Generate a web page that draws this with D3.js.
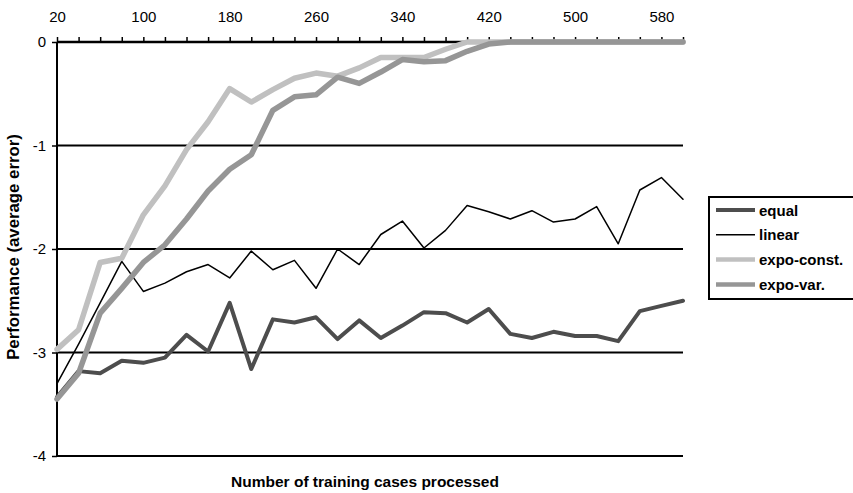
<!DOCTYPE html>
<html>
<head>
<meta charset="utf-8">
<script src="https://cdn.jsdelivr.net/npm/d3@7"></script>
<style>
  html, body { margin: 0; padding: 0; background: #fff; }
  svg { display: block; font-family: "Liberation Sans", Arial, sans-serif; }
</style>
</head>
<body>
<svg id="chart" width="853" height="493"></svg>
<script>
const categories = [20, 40, 60, 80, 100, 120, 140, 160, 180, 200, 220, 240, 260, 280, 300,
                    320, 340, 360, 380, 400, 420, 440, 460, 480, 500, 520, 540, 560, 580, 600];
const tickLabels = [20, 100, 180, 260, 340, 420, 500, 580];
const yTicks = [0, -1, -2, -3, -4];

const equal = [-3.43, -3.18, -3.20, -3.08, -3.10, -3.05, -2.83, -2.99, -2.52, -3.16,
               -2.68, -2.71, -2.66, -2.87, -2.69, -2.86, -2.74, -2.61, -2.62, -2.71,
               -2.58, -2.82, -2.86, -2.80, -2.84, -2.84, -2.89, -2.60, -2.55, -2.50];
const linear = [-3.30, -2.92, -2.52, -2.12, -2.41, -2.33, -2.22, -2.15, -2.28, -2.02,
                -2.20, -2.11, -2.38, -2.00, -2.15, -1.86, -1.73, -1.99, -1.82, -1.58,
                -1.64, -1.71, -1.63, -1.74, -1.71, -1.59, -1.95, -1.43, -1.31, -1.52];
const expoConst = [-2.97, -2.78, -2.13, -2.09, -1.67, -1.39, -1.04, -0.77, -0.45, -0.58,
                   -0.46, -0.35, -0.30, -0.33, -0.25, -0.15, -0.15, -0.15, -0.07, 0,
                   0, 0, 0, 0, 0, 0, 0, 0, 0, 0];
const expoVar = [-3.45, -3.20, -2.62, -2.38, -2.13, -1.96, -1.71, -1.44, -1.23, -1.09,
                 -0.66, -0.53, -0.51, -0.34, -0.40, -0.29, -0.17, -0.19, -0.18, -0.09,
                 -0.02, 0, 0, 0, 0, 0, 0, 0, 0, 0];

const seriesNames = ["equal", "linear", "expo-const.", "expo-var."];
const seriesData = [equal, linear, expoConst, expoVar];
const seriesStyle = [
  { color: "#4d4d4d", width: 4 },
  { color: "#000000", width: 1.5 },
  { color: "#c0c0c0", width: 5.5 },
  { color: "#969696", width: 5.5 }
];

const svg = d3.select("#chart");
const pLeft = 57, pRight = 683, pTop = 42, pBottom = 456;

const x = d3.scaleLinear().domain([20, 600]).range([pLeft, pRight]);
const y = d3.scaleLinear().domain([-4, 0]).range([pBottom, pTop]);

// horizontal gridlines
svg.append("g").selectAll("line")
  .data(yTicks.filter(d => d !== 0))
  .join("line")
  .attr("x1", pLeft).attr("x2", pRight)
  .attr("y1", d => y(d)).attr("y2", d => y(d))
  .attr("stroke", "#000").attr("stroke-width", 2);

// left axis
const yAxis = svg.append("g")
  .attr("transform", `translate(${pLeft},0)`)
  .call(d3.axisLeft(y).tickValues(yTicks).tickFormat(d => String(d)).tickSize(5).tickPadding(6));
yAxis.select(".domain").attr("stroke-width", 2).attr("d", `M0,${pTop}V${pBottom}`);
yAxis.selectAll(".tick line").attr("stroke-width", 1.5);
yAxis.selectAll("text").attr("font-size", 15).attr("fill", "#000")
  .attr("font-family", "'Liberation Sans', Arial, sans-serif");

// top axis
const xAxis = svg.append("g")
  .attr("transform", `translate(0,${pTop})`)
  .call(d3.axisTop(x).tickValues(categories)
    .tickFormat(d => tickLabels.includes(d) ? String(d) : "")
    .tickSize(5).tickPadding(15));
xAxis.select(".domain").attr("stroke-width", 2.5).attr("d", `M${pLeft},0H${pRight}`);
xAxis.selectAll(".tick line").attr("stroke-width", 1.5);
xAxis.selectAll("text").attr("font-size", 15).attr("fill", "#000")
  .attr("font-family", "'Liberation Sans', Arial, sans-serif");

// series lines
const line = d3.line().x((d, i) => x(categories[i])).y(d => y(d));
svg.append("g").selectAll("path")
  .data(seriesData)
  .join("path")
  .attr("d", d => line(d))
  .attr("fill", "none")
  .attr("stroke", (d, i) => seriesStyle[i].color)
  .attr("stroke-width", (d, i) => seriesStyle[i].width)
  .attr("stroke-linejoin", "round")
  .attr("stroke-linecap", "round");

// axis titles
svg.append("text")
  .attr("x", 365).attr("y", 487)
  .attr("text-anchor", "middle")
  .attr("font-size", 15.5).attr("font-weight", "bold")
  .text("Number of training cases processed");

svg.append("text")
  .attr("transform", "translate(13,247) rotate(-90)")
  .attr("dy", "0.35em")
  .attr("text-anchor", "middle")
  .attr("font-size", 16.8).attr("font-weight", "bold")
  .text("Performance (average error)");

// legend
const legend = svg.append("g");
legend.append("rect")
  .attr("x", 709).attr("y", 197).attr("width", 160).attr("height", 102)
  .attr("fill", "#fff").attr("stroke", "#000").attr("stroke-width", 2);
const rows = legend.selectAll("g.row")
  .data(seriesNames)
  .join("g")
  .attr("class", "row")
  .attr("transform", (d, i) => `translate(0,${210 + i * 24.8})`);
rows.append("line")
  .attr("x1", 716).attr("x2", 755).attr("y1", 0).attr("y2", 0)
  .attr("stroke", (d, i) => seriesStyle[i].color)
  .attr("stroke-width", (d, i) => Math.min(seriesStyle[i].width, 4.5));
rows.append("text")
  .attr("x", 759).attr("y", 5.5)
  .attr("font-size", 15).attr("font-weight", "bold")
  .text(d => d);
</script>
</body>
</html>
